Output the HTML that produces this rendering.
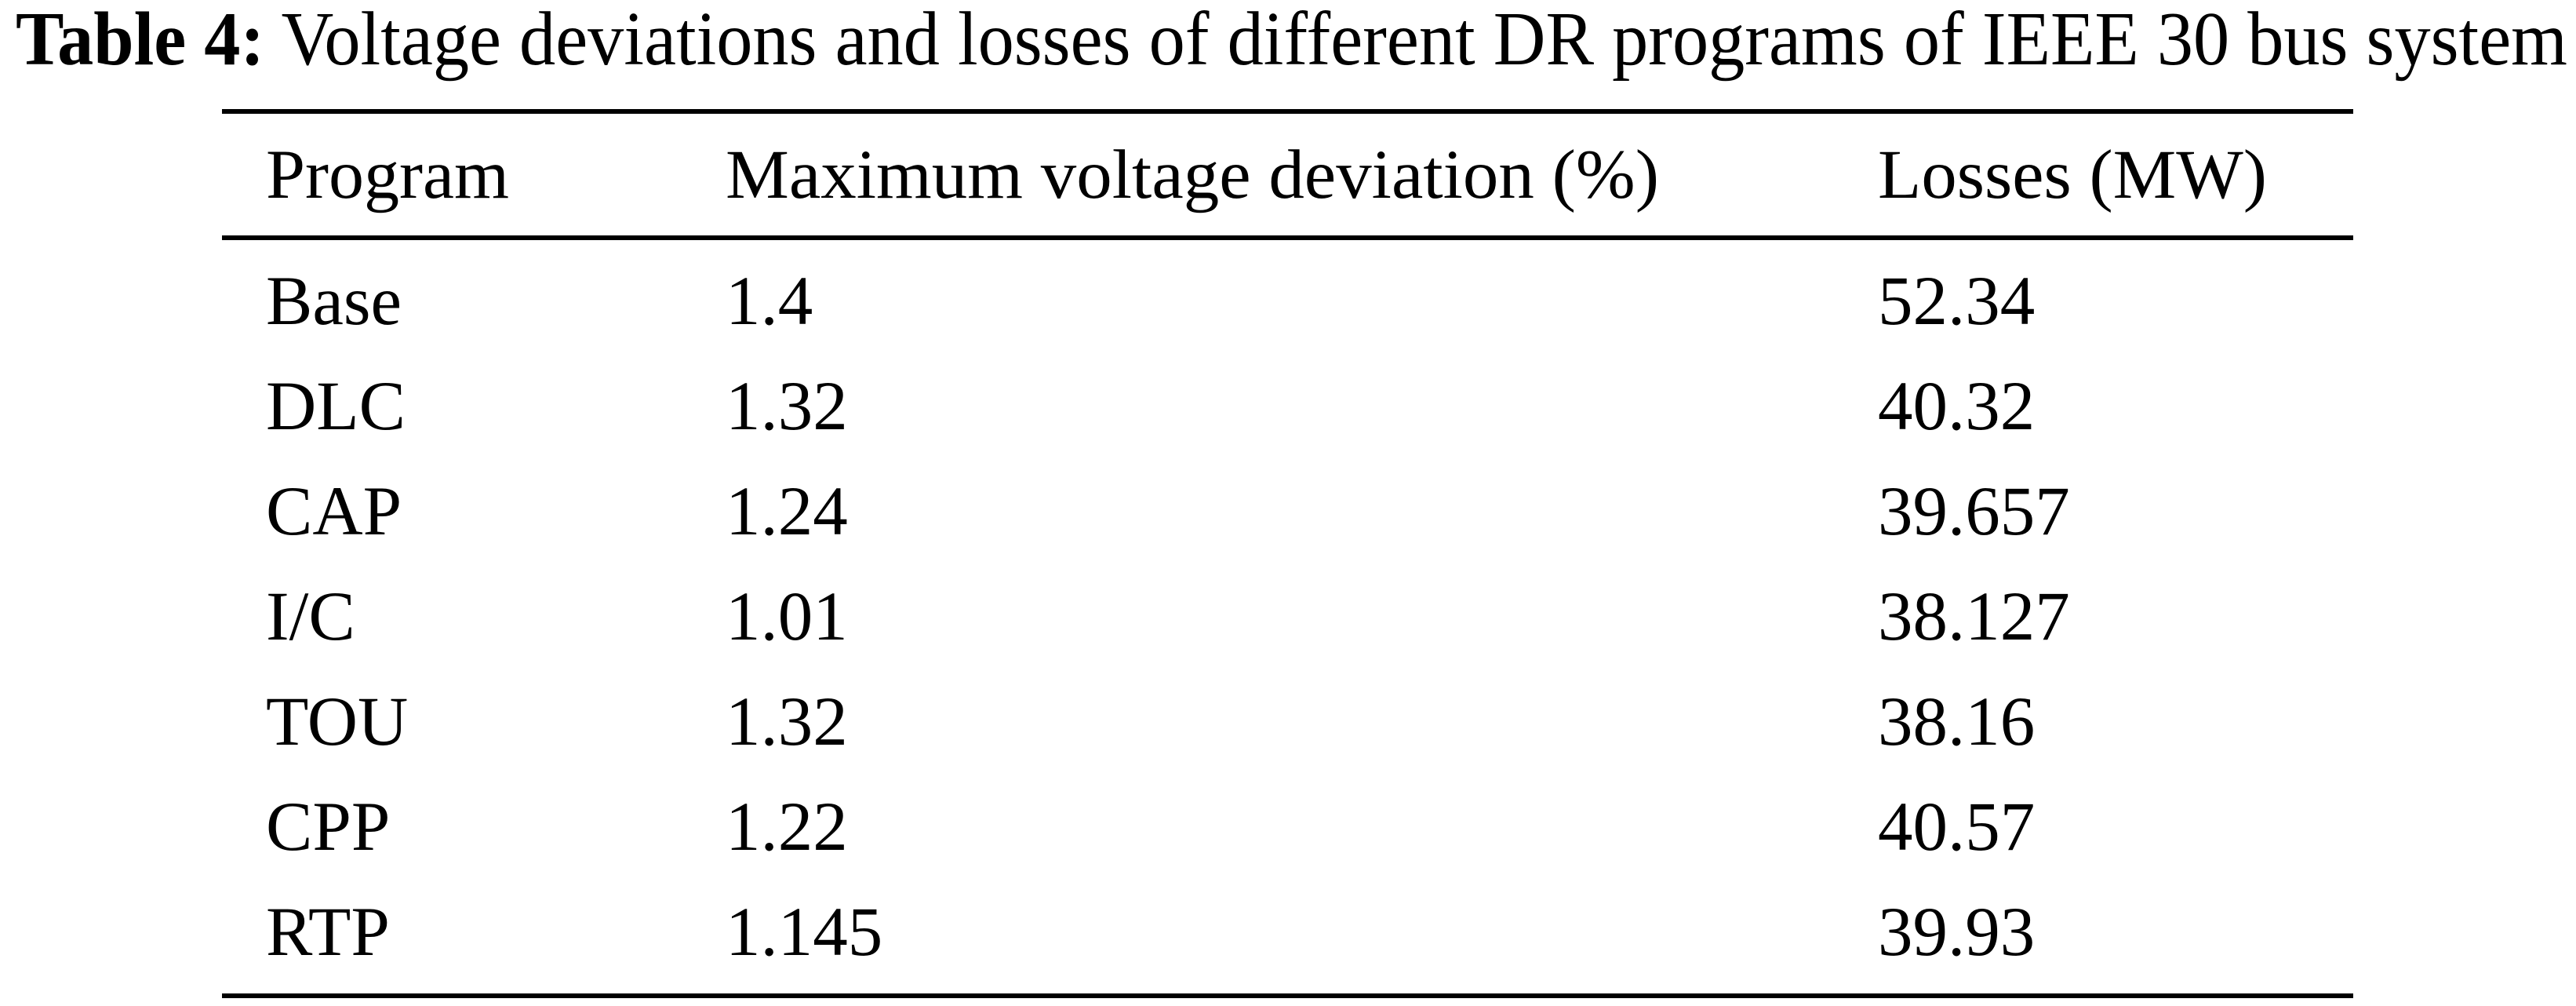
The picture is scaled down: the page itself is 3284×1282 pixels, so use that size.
<!DOCTYPE html>
<html><head><meta charset="utf-8"><style>
html,body{margin:0;padding:0;background:#fff;}
svg{display:block;font-family:"Liberation Serif",serif;}
</style></head><body>
<svg width="3284" height="1282" viewBox="0 0 3284 1282">
<text x="20" y="82" font-size="98" textLength="3253" lengthAdjust="spacingAndGlyphs"><tspan font-weight="bold">Table 4:</tspan>  Voltage deviations and losses of different DR programs of IEEE 30 bus system</text>
<rect x="283" y="139" width="2717" height="6" fill="#000"/>
<text x="339" y="252" font-size="89" textLength="310" lengthAdjust="spacingAndGlyphs">Program</text>
<text x="925" y="252" font-size="89" textLength="1190" lengthAdjust="spacingAndGlyphs">Maximum voltage deviation (%)</text>
<text x="2394" y="252" font-size="89" textLength="496" lengthAdjust="spacingAndGlyphs">Losses (MW)</text>
<rect x="283" y="300" width="2717" height="6" fill="#000"/>
<g id="rows"></g>
<rect x="283" y="1266" width="2717" height="6" fill="#000"/>
</svg>
<script>
const programs = ["Base","DLC","CAP","I/C","TOU","CPP","RTP"];
const voltageDeviation = ["1.4","1.32","1.24","1.01","1.32","1.22","1.145"];
const losses = ["52.34","40.32","39.657","38.127","38.16","40.57","39.93"];
const g = document.getElementById('rows');
const NS = 'http://www.w3.org/2000/svg';
programs.forEach((p, i) => {
  const y = 413 + i * 134;
  const cols = [[339, p, 'program'], [925, voltageDeviation[i], 'voltage-deviation'], [2394, losses[i], 'losses']];
  cols.forEach(c => {
    const t = document.createElementNS(NS, 'text');
    t.setAttribute('x', c[0]);
    t.setAttribute('y', y);
    t.setAttribute('font-size', '89');
    t.textContent = c[1];
    
    
    g.appendChild(t);
  });
});
</script>
</body></html>
